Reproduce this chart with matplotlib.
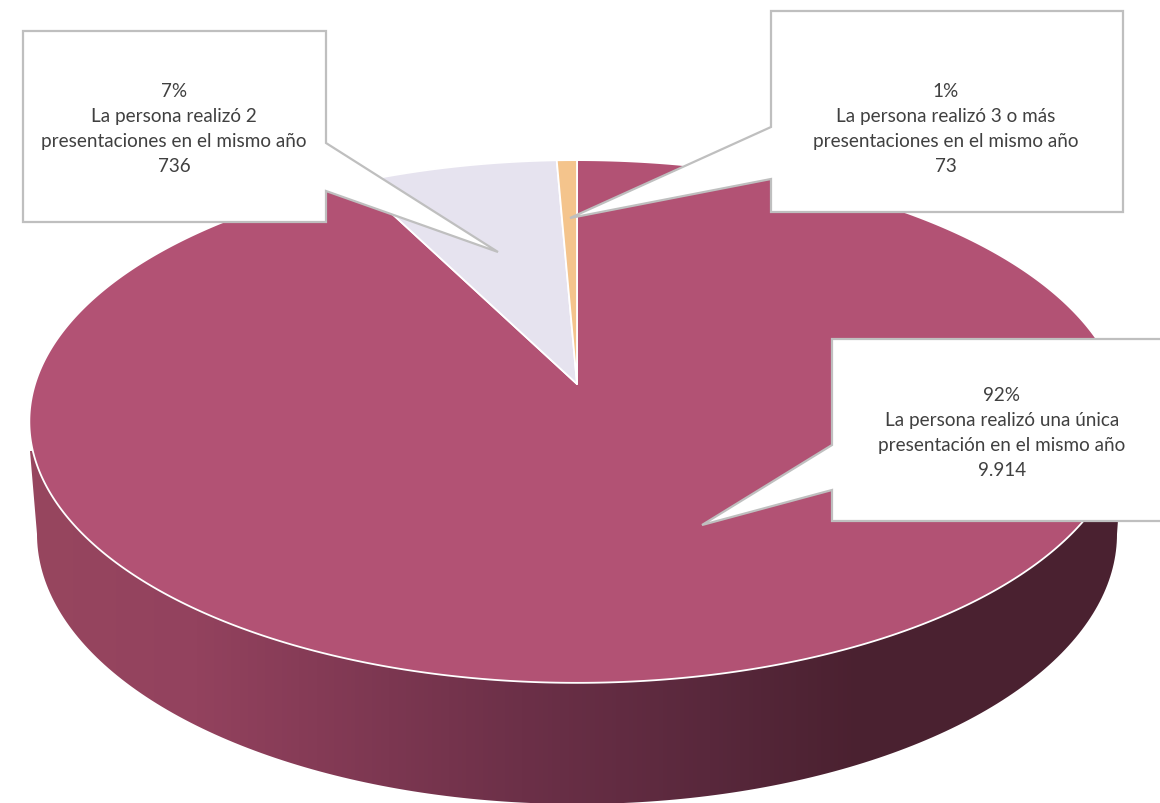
import matplotlib
matplotlib.use('Agg')
import matplotlib.pyplot as plt
import numpy as np
from matplotlib.colors import LinearSegmentedColormap
from matplotlib.patches import Polygon

plt.rcParams['font.family'] = ['Lato', 'DejaVu Sans']

# Data
categories = ['La persona realizó una única\npresentación en el mismo año',
              'La persona realizó 2\npresentaciones en el mismo año',
              'La persona realizó 3 o más\npresentaciones en el mismo año']
values = [9914, 736, 73]
percents = ['92%', '7%', '1%']
value_labels = ['9.914', '736', '73']
colors = ['#b25274', '#e6e3ef', '#f4c48c']

# Geometry of the tilted pie, in pixels of the picture
APEX_X, APEX_Y = 577, 385
RX, RY, PERSP = 542, 256, 0.1434
BOTTOM_CX, BOTTOM_CY, BOTTOM_A, BOTTOM_B = 577, 535, 540, 270


def project(theta):
    # theta runs clockwise from the top of the pie
    px = np.sin(theta)
    py = np.cos(theta)
    d = 1 + PERSP * py
    return APEX_X + RX * px / d, APEX_Y - RY * py / d


fig = plt.figure(figsize=(11.6, 8.04), dpi=100)
ax = fig.add_axes([0, 0, 1, 1])
ax.set_xlim(0, 1160)
ax.set_ylim(804, 0)
ax.axis('off')

# Side wall with horizontal gradient
t = np.linspace(np.pi, 0, 200)
wall_x = BOTTOM_CX + BOTTOM_A * np.cos(t)
wall_y = BOTTOM_CY + BOTTOM_B * np.sin(t)
wall_pts = np.column_stack([np.r_[30, wall_x, 1125], np.r_[452, wall_y, 425]])
wall_poly = Polygon(wall_pts, closed=True, fc='none', ec='none')
ax.add_patch(wall_poly)

stops = [(0.0, '#97465f'), (0.15, '#93425e'), (0.26, '#853b56'), (0.45, '#6c3048'),
         (0.62, '#59283c'), (0.76, '#4a2130'), (1.0, '#4a2130')]
cmap = LinearSegmentedColormap.from_list('wall', stops)
im = ax.imshow(np.linspace(0, 1, 256).reshape(1, -1), cmap=cmap, aspect='auto',
               extent=(30, 1125, 810, 420), zorder=1)
im.set_clip_path(wall_poly)
ax.set_xlim(0, 1160)
ax.set_ylim(804, 0)

# Top face: one wedge per value, clockwise from the top
fracs = np.array(values) / sum(values)
edges = np.r_[0, np.cumsum(fracs)] * 2 * np.pi
for i in range(len(values)):
    th = np.linspace(edges[i], edges[i + 1], max(int(fracs[i] * 720), 8))
    ex, ey = project(th)
    pts = np.column_stack([np.r_[APEX_X, ex], np.r_[APEX_Y, ey]])
    ax.add_patch(Polygon(pts, closed=True, fc=colors[i], ec='white', lw=1.3,
                         joinstyle='round', zorder=2))

# Callouts: box plus tail pointing into the slice
callouts = [
    dict(idx=0, cx=1002, cy=433,
         pts=[(832, 340), (1170, 340), (1170, 522), (832, 522), (832, 491), (702, 526), (832, 446)]),
    dict(idx=1, cx=174, cy=129,
         pts=[(23, 32), (326, 32), (326, 144), (498, 253), (326, 192), (326, 223), (23, 223)]),
    dict(idx=2, cx=946, cy=129,
         pts=[(771, 12), (1123, 12), (1123, 213), (771, 213), (771, 180), (570, 219), (771, 128)]),
]
for c in callouts:
    ax.add_patch(Polygon(c['pts'], closed=True, fc='white', ec='#bfbfbf', lw=1.6,
                         joinstyle='miter', zorder=3))
    i = c['idx']
    label = percents[i] + '\n' + categories[i] + '\n' + value_labels[i]
    ax.text(c['cx'], c['cy'], label, ha='center', va='center', fontsize=13.6,
            color='#404040', linespacing=1.55, zorder=4)

fig.savefig('out.png', dpi=100, facecolor='white')
